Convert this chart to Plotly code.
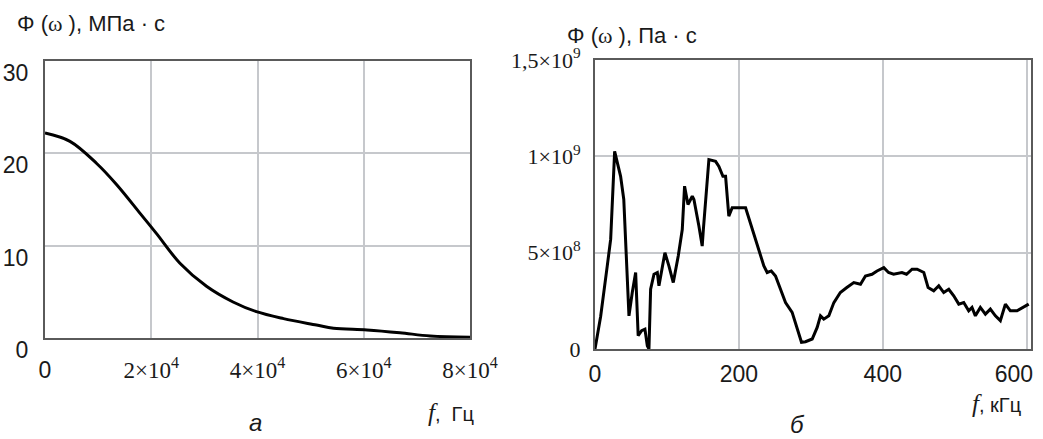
import plotly.graph_objects as go

# Panel a: Phi(omega), MPa*s vs f, Hz
f_a = [0, 4700, 9730, 13500, 17900, 21000, 25400, 30400, 35400, 39800, 44900,
       51100, 54300, 60600, 66800, 72500, 80000]
phi_a = [22.2, 21.3, 18.9, 16.6, 13.5, 11.3, 8.1, 5.6, 3.9, 2.85, 2.1,
         1.4, 1.05, 0.87, 0.57, 0.22, 0.08]

# Panel b: Phi(omega), Pa*s vs f, kHz (values in units of 1e8)
f_b = [0, 7.9, 17, 21.8, 27.3, 31, 35.6, 40, 47.2, 51.8, 56.5, 60, 64.8, 69.4, 72.7, 75,
       77.3, 82, 86.6, 88.9, 97.2, 102.8, 108.8, 115.7, 121.3, 124.5, 129.2, 135.2, 137.5,
       144.4, 149, 150.6, 158.3, 167.6, 172.2, 177.8, 181.5, 186, 190.7, 209.3, 218.5,
       227.8, 234.7, 239.3, 245, 250.9, 260.2, 264.8, 274, 281, 287, 292.6, 301.9, 308.8,
       313.4, 318, 325, 332, 341, 350, 359.7, 369, 375.9, 385, 392, 401.4, 408, 415, 426.6,
       433, 440.7, 447.7, 457, 463, 470.8, 477.8, 484.7, 491.7, 498.6, 505.6, 512.5, 519.4,
       524, 528.7, 535.6, 542.6, 549.5, 556.5, 563.4, 570.4, 577.3, 586.6, 595.8, 602.8]
phi_b = [0, 1.7, 4.3, 5.7, 10.26, 9.66, 8.96, 7.76, 1.72, 2.93, 3.97, 0.69, 0.95, 1.03, 0.17, 0,
         3.1, 3.88, 3.97, 3.28, 5.0, 4.3, 3.45, 4.83, 6.2, 8.45, 7.5, 7.93, 7.76,
         6.38, 5.34, 6.2, 9.83, 9.74, 9.48, 8.96, 8.96, 6.9, 7.33, 7.33, 6.2,
         5.17, 4.31, 3.97, 4.05, 3.79, 2.93, 2.41, 1.9, 1.03, 0.35, 0.38, 0.52, 1.12,
         1.72, 1.55, 1.72, 2.41, 2.93, 3.19, 3.45, 3.36, 3.79, 3.88, 4.05, 4.22, 3.97, 3.88, 3.97,
         3.88, 4.14, 4.14, 3.97, 3.19, 3.02, 3.28, 2.93, 3.1, 2.76, 2.33, 2.41, 1.98,
         2.16, 1.72, 2.16, 1.81, 2.07, 1.72, 1.47, 2.33, 1.98, 1.98, 2.16, 2.33]
phi_b_abs = [v * 1e8 for v in phi_b]

xa_tickvals = [0, 20000, 40000, 60000, 80000]
xa_ticktext = ["0"] + ["<span style='font-family:Liberation Serif'>%d×10<sup>4</sup></span>" % k
                       for k in (2, 4, 6, 8)]
ya_tickvals = [0, 10, 20, 30]
ya_ticktext = ["0", "10", "20", "30"]
xb_tickvals = [0, 200, 400, 600]
xb_ticktext = ["0", "200", "400", "600&nbsp;&nbsp;&nbsp;&nbsp;"]
yb_tickvals = [0, 5e8, 1e9, 1.5e9]
yb_ticktext = ["0", "5×10<sup>8</sup>", "1×10<sup>9</sup>", "1,5×10<sup>9</sup>"]

W, H = 1043, 439
def px_x(p):
    return p / W
def px_y(p):
    return 1 - p / H

fig = go.Figure()
fig.add_trace(go.Scatter(x=f_a, y=phi_a, mode="lines", line=dict(color="black", width=3, shape="spline"),
                         xaxis="x", yaxis="y", showlegend=False))
fig.add_trace(go.Scatter(x=f_b, y=phi_b_abs, mode="lines", line=dict(color="black", width=3),
                         xaxis="x2", yaxis="y2", showlegend=False))

grid = "#c6c8cc"
box = "#5a5a5a"
sans = "Liberation Sans"
serif = "Liberation Serif"
common = dict(showgrid=True, gridcolor=grid, gridwidth=2, zeroline=False, automargin=False,
              showline=True, mirror=True, linecolor=box, linewidth=2, ticks="",
              ticklabeloverflow="allow")

fig.update_layout(
    width=W, height=H, margin=dict(l=0, r=0, t=0, b=0),
    paper_bgcolor="white", plot_bgcolor="white",
    font=dict(family=sans, size=23, color="#1a1a1a"),
    xaxis=dict(domain=[px_x(45), px_x(470)], range=[0, 80000], tickmode="array",
               tickvals=xa_tickvals, ticktext=xa_ticktext, anchor="y",
               ticklabelstandoff=10, **common),
    yaxis=dict(domain=[px_y(338), px_y(61)], range=[0, 30], tickmode="array",
               tickvals=ya_tickvals, ticktext=ya_ticktext, anchor="x",
               ticklabelstandoff=10, ticklabelshift=12, **common),
    xaxis2=dict(domain=[px_x(595), px_x(1031)], range=[0, 606], tickmode="array",
                tickvals=xb_tickvals, ticktext=xb_ticktext, anchor="y2",
                ticklabelstandoff=3, **common),
    yaxis2=dict(domain=[px_y(349), px_y(60)], range=[0, 1.5e9], tickmode="array",
                tickvals=yb_tickvals, ticktext=yb_ticktext, anchor="x2",
                tickfont=dict(family=serif, size=22),
                ticklabelstandoff=8, **common),
)

fspan = "<span style='font-family:%s;font-size:25px'><i>f</i></span>" % serif
ann = [
    dict(x=px_x(15), y=px_y(23), text="Φ (<span style='font-family:%s'>ω</span> ), МПа · с" % serif,
         xanchor="left", yanchor="middle", font=dict(size=22)),
    dict(x=px_x(476), y=px_y(412), text=fspan + ",  Гц",
         xanchor="right", yanchor="middle", font=dict(size=20)),
    dict(x=px_x(255), y=px_y(422), text="<i>а</i>", xanchor="center", yanchor="middle",
         font=dict(size=24)),
    dict(x=px_x(565), y=px_y(35), text="Φ (<span style='font-family:%s'>ω</span> ), Па · с" % serif,
         xanchor="left", yanchor="middle", font=dict(size=22)),
    dict(x=px_x(1023), y=px_y(403), text=fspan + ", кГц",
         xanchor="right", yanchor="middle", font=dict(size=20)),
    dict(x=px_x(797), y=px_y(424), text="<i>б</i>", xanchor="center", yanchor="middle",
         font=dict(size=24)),
]
for a in ann:
    a.update(xref="paper", yref="paper", showarrow=False)
fig.update_layout(annotations=ann)

fig.write_html("out.html")
